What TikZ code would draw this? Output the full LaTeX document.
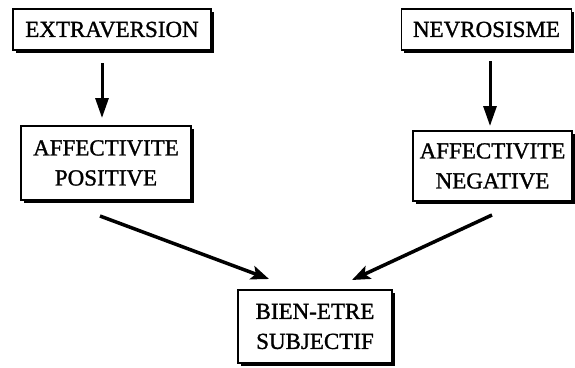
\documentclass[tikz,border=0pt]{standalone}
\usepackage{fontspec}
\setmainfont{Liberation Serif}
\newfontfamily\boxfont[FakeBold=1.2]{Liberation Serif}
\usetikzlibrary{arrows.meta,shadows}
\begin{document}
\begin{tikzpicture}[x=1pt,y=-1pt,
  box/.style={draw=black,line width=1.4pt,fill=white,inner sep=0pt,align=center,
    font=\boxfont\fontsize{23}{30}\selectfont,
    drop shadow={shadow xshift=2.5pt,shadow yshift=-2.5pt,fill=black,opacity=1}},
  arr/.style={line width=3.5pt,-{Stealth[length=18pt,width=14pt,inset=4pt]}},
  darr/.style={line width=3pt,-{Triangle[length=20pt,width=13pt]}}]
\useasboundingbox (0,0) rectangle (575,367);
\node[box,minimum width=198pt,minimum height=41pt] (ex) at (112,29.5) {EXTRAVERSION};
\node[box,minimum width=170pt,minimum height=41pt] (ne) at (486.5,29.5) {NEVROSISME};
\node[box,minimum width=170pt,minimum height=74pt] (ap) at (106,163) {AFFECTIVITE\\POSITIVE};
\node[box,minimum width=159pt,minimum height=70pt] (an) at (492.5,166) {AFFECTIVITE\\NEGATIVE};
\node[box,minimum width=154pt,minimum height=73pt] (be) at (315,326.5) {BIEN-ETRE\\SUBJECTIF};
\coordinate (a1s) at (102,63);
\coordinate (a1e) at (102,118);
\coordinate (a2s) at (490,61);
\coordinate (a2e) at (490,126);
\coordinate (a3s) at (100,216);
\coordinate (a3e) at (269,279);
\coordinate (a4s) at (492,215);
\coordinate (a4e) at (352,280);
\draw[darr] (a1s) -- (a1e);
\draw[darr] (a2s) -- (a2e);
\draw[arr] (a3s) -- (a3e);
\draw[arr] (a4s) -- (a4e);
\end{tikzpicture}
\end{document}
